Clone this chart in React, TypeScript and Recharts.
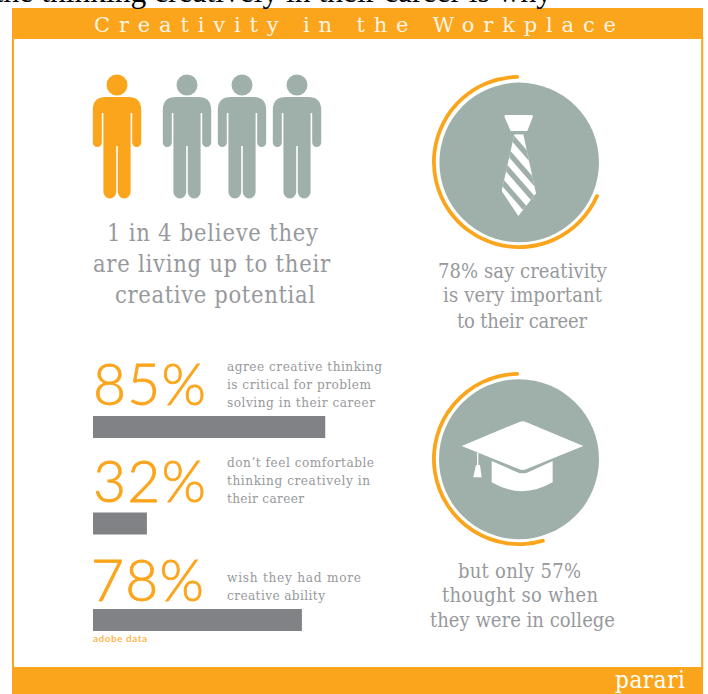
import React from "react";
import {
  BarChart,
  Bar,
  XAxis,
  YAxis,
  PieChart,
  Pie,
  Cell,
  ScatterChart,
  Scatter,
} from "recharts";

// Survey figures
const barPercents = [85, 32, 78];
const barKeys = ["problem solving", "comfort", "more ability"];
const careerImportance = 78;
const collegeImportance = 57;
const believers = 1;
const peopleTotal = 4;

const ORANGE = "#fba51c";
const SAGE = "#9fb0ab";
const BAR_GREY = "#808285";
const TEXT_GREY = "#97999c";
const SLAB = "'DejaVu Serif Condensed', 'DejaVu Serif', serif";

const barRows = barKeys.map((key, i) => ({ key, percent: barPercents[i] }));
const peopleRows = Array.from({ length: peopleTotal }, (_, seat) => ({
  seat,
  row: 0,
  believes: seat < believers,
}));

type Line = [string, number, number, number];

// text, left edge, right edge, baseline
const headlineLines: Line[] = [
  ["1 in 4 believe they", 107, 318, 241],
  ["are living up to their", 93, 330, 272],
  ["creative potential", 115, 315, 303],
];
const careerLines: Line[] = [
  [`${careerImportance}% say creativity`, 438, 607, 278],
  ["is very important", 443, 602, 302],
  ["to their career", 457, 587, 328],
];
const collegeLines: Line[] = [
  [`but only ${collegeImportance}%`, 458, 581, 578],
  ["thought so when", 442, 598, 602],
  ["they were in college", 430, 615, 627],
];
const noteLines: Line[] = [
  ["agree creative thinking", 227, 382, 371],
  ["is critical for problem", 227, 371, 389],
  ["solving in their career", 227, 375, 407],
  ["don\u2019t feel comfortable", 227, 374, 467],
  ["thinking creatively in", 227, 370, 485],
  ["their career", 227, 304, 503],
  ["wish they had more", 227, 361, 582],
  ["creative ability", 227, 325, 600],
];
const percentBaselines = [405, 502, 601];
const percentLeft = [93, 93, 91];

const fixedLayer: React.CSSProperties = { position: "absolute", left: 0, top: 0 };

function TextLines({ lines, size }: { lines: Line[]; size: number }) {
  return (
    <>
      {lines.map(([text, x0, x1, y]) => (
        <text
          key={text}
          x={x0}
          y={y}
          textLength={x1 - x0}
          lengthAdjust="spacing"
          fontFamily={SLAB}
          fontSize={size}
          fill={TEXT_GREY}
        >
          {text}
        </text>
      ))}
    </>
  );
}

// Pictogram figure, drawn around the chart point it is given
function Person({ cx, cy, payload }: any) {
  const shift = payload.believes ? -15 : 0;
  return (
    <g
      transform={`translate(${cx + shift},${cy})`}
      fill={payload.believes ? ORANGE : SAGE}
    >
      <circle cx={0} cy={0} r={10.5} />
      <path d="M-24.2,25 Q-24.2,12 -11,12 H11 Q24.2,12 24.2,25 V57.5 A4.5,4.5 0 0 1 15.2,57.5 V28 H13.6 V107 A6.4,6.4 0 0 1 0.8,107 V61 H-0.8 V107 A6.4,6.4 0 0 1 -13.6,107 V28 H-15.2 V57.5 A4.5,4.5 0 0 1 -24.2,57.5 Z" />
    </g>
  );
}

function Ring({
  value,
  sweep,
  top,
}: {
  value: number;
  sweep: number;
  top: number;
}) {
  const rows = [
    { name: "yes", value },
    { name: "rest", value: 100 - value },
  ];
  return (
    <div style={{ ...fixedLayer, left: 419, top }}>
      <PieChart width={200} height={200} margin={{ top: 0, right: 0, bottom: 0, left: 0 }}>
        <Pie
          data={rows}
          dataKey="value"
          cx={100}
          cy={100}
          startAngle={90}
          endAngle={90 + sweep}
          innerRadius={83.2}
          outerRadius={87}
          cornerRadius={1.5}
          stroke="none"
          isAnimationActive={false}
        >
          <Cell fill={ORANGE} />
          <Cell fill="none" />
        </Pie>
      </PieChart>
    </div>
  );
}

function TieIcon() {
  const gaps = [90, 148, 201, 258];
  return (
    <g transform="translate(480,105) scale(0.3333)">
      <clipPath id="tie-blade">
        <path d="M103,88 H130 L168,265 L115,333 L65,258 Z" />
      </clipPath>
      <path
        d="M78,30 H154 Q160,30 158,37 L142,78 H92 L74,37 Q72,30 78,30 Z"
        fill="#fff"
      />
      <g clipPath="url(#tie-blade)">
        <rect x={55} y={80} width={125} height={260} fill="#fff" />
        {gaps.map((y) => (
          <line
            key={y}
            x1={50}
            y1={y - 46}
            x2={190}
            y2={y + 115}
            stroke={SAGE}
            strokeWidth={16}
          />
        ))}
      </g>
    </g>
  );
}

function CapIcon() {
  return (
    <g transform="translate(400,360) scale(0.3333)" fill="#fff">
      <path d="M360,185 Q368,182 376,185 L550,258 L378,328 Q368,332 358,328 L185,258 Z" />
      <path d="M275,303 L355,338 Q368,342 381,338 L458,303 V367 Q365,420 275,367 Z" />
      <rect x={231} y={278} width={4} height={40} />
      <path d="M228,315 H240 L245,352 H220 Z" />
    </g>
  );
}

export default function App() {
  return (
    <div
      style={{
        position: "absolute",
        left: 0,
        top: 0,
        width: 708,
        height: 694,
        background: "#fff",
        overflow: "hidden",
      }}
    >
      <svg width={708} height={694} style={fixedLayer}>
        <rect x={13} y={38} width={689.2} height={630} fill="none" stroke={ORANGE} strokeWidth={2} />
        <rect x={12} y={8} width={691} height={31} fill={ORANGE} />
        <rect x={12} y={667.5} width={691} height={27} fill={ORANGE} />
        <circle cx={519.2} cy={162.4} r={79.8} fill={SAGE} />
        <circle cx={519} cy={459.2} r={80} fill={SAGE} />
        <TieIcon />
        <CapIcon />
      </svg>

      <div style={fixedLayer}>
        <ScatterChart
          width={708}
          height={230}
          margin={{ top: 0, right: 708 - 297, bottom: 145, left: 132 }}
        >
          <XAxis type="number" dataKey="seat" domain={[0, 3]} hide />
          <YAxis type="number" dataKey="row" domain={[0, 1]} hide />
          <Scatter data={peopleRows} shape={Person} isAnimationActive={false} />
        </ScatterChart>
      </div>

      <Ring value={careerImportance} sweep={317.4} top={62.4} />
      <Ring value={collegeImportance} sweep={346.5} top={359.2} />

      <div style={{ ...fixedLayer, left: 93.3, top: 379.3 }}>
        <BarChart
          layout="vertical"
          width={232.5}
          height={289.5}
          data={barRows}
          margin={{ top: 0, right: 0, bottom: 0, left: 0 }}
        >
          <XAxis type="number" domain={[16, 85]} hide allowDataOverflow />
          <YAxis type="category" dataKey="key" hide />
          <Bar dataKey="percent" fill={BAR_GREY} barSize={22} isAnimationActive={false} />
        </BarChart>
      </div>

      <svg width={708} height={694} style={fixedLayer}>
        <text
          x={552}
          y={2}
          textAnchor="end"
          fontFamily="'Liberation Serif', serif"
          fontSize={31.5}
          fill="#000"
        >
          the thinking creatively in their career is why
        </text>
        <text
          x={94}
          y={32}
          textLength={522}
          lengthAdjust="spacing"
          fontFamily="'DejaVu Serif', serif"
          fontSize={21}
          fill="#fff"
          fillOpacity={0.9}
        >
          Creativity in the Workplace
        </text>
        <TextLines lines={headlineLines} size={23.5} />
        <TextLines lines={careerLines} size={20} />
        <TextLines lines={collegeLines} size={20} />
        <TextLines lines={noteLines} size={13.5} />
        {barPercents.map((p, i) => (
          <text
            key={barKeys[i]}
            x={percentLeft[i]}
            y={percentBaselines[i]}
            textLength={113}
            fontFamily="Lato, sans-serif"
            fontWeight={300}
            fontSize={57}
            fill={ORANGE}
            stroke={ORANGE}
            strokeWidth={0.8}
          >
            {p}%
          </text>
        ))}
        <text
          x={93}
          y={642}
          textLength={54}
          fontFamily="Lato, sans-serif"
          fontWeight={700}
          fontSize={10}
          fill={ORANGE}
          fillOpacity={0.8}
        >
          adobe data
        </text>
        <text
          x={615}
          y={688}
          textLength={70}
          fontFamily={SLAB}
          fontWeight={400}
          fontSize={24}
          fill="#fff"
        >
          parari
        </text>
      </svg>
    </div>
  );
}
